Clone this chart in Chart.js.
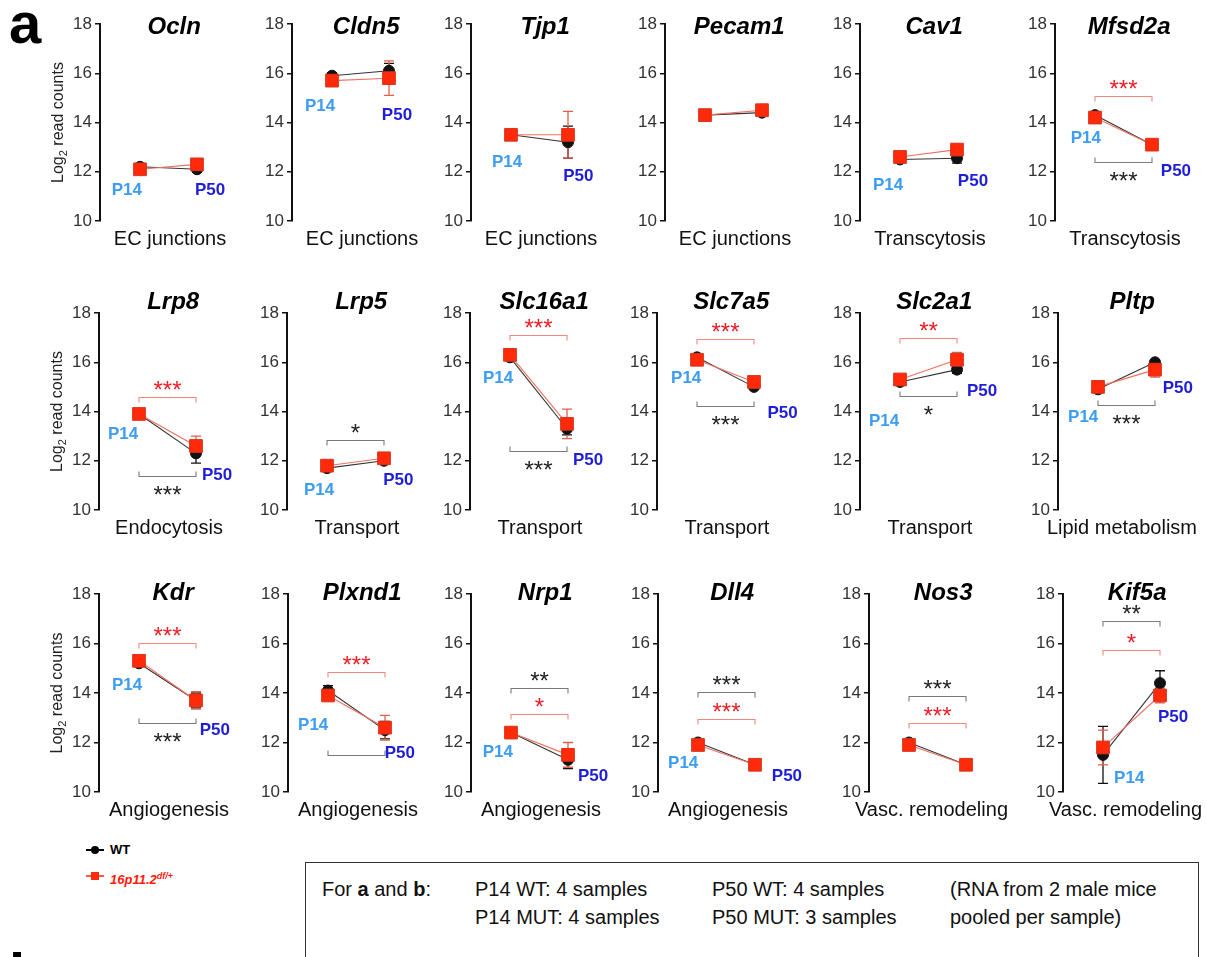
<!DOCTYPE html>
<html><head><meta charset="utf-8">
<script src="https://cdn.jsdelivr.net/npm/chart.js@4.4.1/dist/chart.umd.min.js"></script>
<style>
body{margin:0;background:#fff;width:1207px;height:957px;overflow:hidden;position:relative;font-family:'Liberation Sans',Arial,Helvetica,sans-serif;}
canvas{position:absolute;}
.abs{position:absolute;white-space:nowrap;}
.big{font-weight:bold;font-size:58px;line-height:58px;color:#000;}
.box{position:absolute;left:305px;top:862px;width:892px;height:200px;border:1.5px solid #333;}
.bt{position:absolute;font-size:20px;line-height:24px;color:#111;white-space:nowrap;}
.leg{position:absolute;font-size:13px;font-weight:bold;line-height:16px;white-space:nowrap;}
</style></head><body>
<div class="abs big" style="left:9px;top:-6px;">a</div>
<div class="abs big" style="left:9px;top:945px;">b</div>

<div class="abs" style="left:86px;top:849px;width:18px;height:1.5px;background:#000;"></div>
<div class="abs" style="left:91px;top:846px;width:8px;height:8px;border-radius:50%;background:#000;"></div>
<div class="leg" style="left:110px;top:842px;color:#000;">WT</div>
<div class="abs" style="left:86px;top:875px;width:18px;height:1.5px;background:#f06050;"></div>
<div class="abs" style="left:91px;top:872px;width:8px;height:8px;background:#ff2a0a;"></div>
<div class="leg" style="left:110px;top:868px;color:#ff1a0a;font-style:italic;">16p11.2<sup style="font-size:9px;">df/+</sup></div>

<div class="box"></div>
<div class="bt" style="left:322px;top:877px;">For <b>a</b> and <b>b</b>:</div>
<div class="bt" style="left:475px;top:877px;">P14 WT: 4 samples</div>
<div class="bt" style="left:475px;top:905px;">P14 MUT: 4 samples</div>
<div class="bt" style="left:712px;top:877px;">P50 WT: 4 samples</div>
<div class="bt" style="left:712px;top:905px;">P50 MUT: 3 samples</div>
<div class="bt" style="left:950px;top:877px;">(RNA from 2 male mice</div>
<div class="bt" style="left:950px;top:905px;">pooled per sample)</div>

<script>
// ---------------- DATA ----------------
const genes = ['Ocln','Cldn5','Tjp1','Pecam1','Cav1','Mfsd2a',
               'Lrp8','Lrp5','Slc16a1','Slc7a5','Slc2a1','Pltp',
               'Kdr','Plxnd1','Nrp1','Dll4','Nos3','Kif5a'];
const categories = ['EC junctions','EC junctions','EC junctions','EC junctions','Transcytosis','Transcytosis',
                    'Endocytosis','Transport','Transport','Transport','Transport','Lipid metabolism',
                    'Angiogenesis','Angiogenesis','Angiogenesis','Angiogenesis','Vasc. remodeling','Vasc. remodeling'];
const ages = ['P14','P50'];
const yTicks = [10,12,14,16,18];

const wtP14     = [12.2, 15.9, 13.5, 14.3, 12.5, 14.3, 13.9, 11.7, 16.2, 16.2, 15.2, 14.9, 15.2, 14.1, 12.4, 12.0, 12.0, 11.5];
const wtP14Err  = [0.08, 0.12, 0.05, 0.05, 0.05, 0.05, 0.05, 0.05, 0.05, 0.05, 0.05, 0.05, 0.05, 0.2,  0.05, 0.05, 0.05, 1.15];
const wtP50     = [12.1, 16.1, 13.2, 14.4, 12.55,13.1, 12.3, 12.0, 13.3, 15.0, 15.7, 16.0, 13.7, 12.5, 11.3, 11.1, 11.1, 14.4];
const wtP50Err  = [0.12, 0.3,  0.65, 0.08, 0.2,  0.05, 0.4,  0.05, 0.25, 0.1,  0.15, 0.1,  0.3,  0.35, 0.35, 0.05, 0.05, 0.5];
const mutP14    = [12.1, 15.7, 13.5, 14.3, 12.6, 14.2, 13.9, 11.8, 16.3, 16.1, 15.3, 15.0, 15.3, 13.9, 12.4, 11.9, 11.9, 11.8];
const mutP14Err = [0.08, 0.1,  0.05, 0.05, 0.05, 0.05, 0.05, 0.05, 0.05, 0.05, 0.05, 0.05, 0.05, 0.1,  0.05, 0.05, 0.05, 0.7];
const mutP50    = [12.3, 15.8, 13.5, 14.5, 12.9, 13.1, 12.6, 12.1, 13.5, 15.2, 16.1, 15.7, 13.7, 12.6, 11.5, 11.1, 11.1, 13.9];
const mutP50Err = [0.1,  0.7,  0.95, 0.08, 0.1,  0.08, 0.4,  0.08, 0.6,  0.08, 0.3,  0.3,  0.35, 0.5,  0.5,  0.05, 0.05, 0.3];

// significance brackets (value level on the y axis) and their star labels
const wtBracket   = [null,null,null,null,null,12.38, 11.4, 12.85, 12.4, 14.23, 14.61, 14.27, 12.8, 11.49, 14.22, 14.05, 13.88, 16.92];
const wtStars     = ['','','','','','***', '***', '*', '***', '***', '*', '***', '***', '', '**', '***', '***', '**'];
const mutBracket  = [null,null,null,null,null,15.09, 14.57, null, 17.09, 16.94, 16.98, null, 16.01, 14.86, 13.15, 12.96, 12.79, 15.75];
const mutStars    = ['','','','','','***', '***', '', '***', '***', '**', '', '***', '***', '*', '***', '***', '*'];

// age label anchors [x, y] in data units (null = no label)
const p14Label = [[-0.23,11.26],[-0.21,14.64],[-0.07,12.38],null,[-0.21,11.46],[-0.16,13.36],
                  [-0.28,13.09],[-0.14,10.81],[-0.21,15.36],[-0.19,15.33],[-0.28,13.6],[-0.26,13.77],
                  [-0.21,14.32],[-0.26,12.7],[-0.23,11.62],[-0.26,11.15],null,[0.46,10.57]];
const p50Label = [[1.23,11.26],[1.14,14.3],[1.18,11.8],null,[1.28,11.63],[1.42,12.0],
                  [1.37,11.4],[1.25,11.19],[1.37,12.0],[1.5,13.93],[1.44,14.81],[1.4,14.95],
                  [1.33,12.5],[1.26,11.55],[1.44,10.64],[1.56,10.64],null,[1.23,13.03]];

// ---------------- LAYOUT / STYLE ----------------
const FONT = "'Liberation Sans', Arial, Helvetica, sans-serif";
const UNIT = 57;
const XMIN = -40 / UNIT;
const PLOT_W = 150;
const XMAX = XMIN + PLOT_W / UNIT;
const AXIS_W = 70, PAD_T = 45, PAD_B = 45, CANVAS_W = 230;
const rows = [
  {top:24,  bottom:221, xs:[100,292,471,665,860,1055], titleDy:3},
  {top:313, bottom:510, xs:[99,287,470,657,860,1058],  titleDy:-11},
  {top:594, bottom:792, xs:[99,288,471,658,869,1063],  titleDy:-1}
];
const WT_COL = '#111', WT_LINE = '#333', MUT_COL = '#ff2a0a', MUT_LINE = '#f07060', MUT_ERR = '#e0604c';
const P14_COL = '#3d9df2', P50_COL = '#1e1ed8';

function errBar(ctx, xs, ys, x, v, e, color) {
  const px = xs.getPixelForValue(x);
  const y1 = ys.getPixelForValue(v + e), y2 = ys.getPixelForValue(v - e);
  ctx.strokeStyle = color; ctx.lineWidth = 1.3;
  ctx.beginPath();
  ctx.moveTo(px, y1); ctx.lineTo(px, y2);
  ctx.moveTo(px - 5, y1); ctx.lineTo(px + 5, y1);
  ctx.moveTo(px - 5, y2); ctx.lineTo(px + 5, y2);
  ctx.stroke();
}
function bracket(ctx, xs, ys, yv, mid, color, stars, starColor) {
  const x1 = xs.getPixelForValue(0), x2 = xs.getPixelForValue(1), py = Math.round(ys.getPixelForValue(yv)) + 0.5;
  const dir = mid < yv ? 1 : -1;
  ctx.strokeStyle = color; ctx.lineWidth = 1.1;
  ctx.beginPath();
  ctx.moveTo(x1, py + dir * 5); ctx.lineTo(x1, py); ctx.lineTo(x2, py); ctx.lineTo(x2, py + dir * 5);
  ctx.stroke();
  if (stars) {
    const cy = py - dir * 13;
    ctx.font = `24px ${FONT}`;
    ctx.fillStyle = starColor; ctx.textAlign = 'center'; ctx.textBaseline = 'alphabetic';
    ctx.fillText(stars, (x1 + x2) / 2, cy + 0.57 * 24);
  }
}

const decor = {
  id: 'decor',
  beforeDatasetsDraw(chart, args, opts) {
    const i = opts.i, ctx = chart.ctx, xs = chart.scales.x, ys = chart.scales.y;
    ctx.save();
    errBar(ctx, xs, ys, 0, wtP14[i], wtP14Err[i], WT_COL);
    errBar(ctx, xs, ys, 1, wtP50[i], wtP50Err[i], WT_COL);
    errBar(ctx, xs, ys, 0, mutP14[i], mutP14Err[i], MUT_ERR);
    errBar(ctx, xs, ys, 1, mutP50[i], mutP50Err[i], MUT_ERR);
    ctx.restore();
  },
  afterDraw(chart, args, opts) {
    const i = opts.i, ctx = chart.ctx, xs = chart.scales.x, ys = chart.scales.y, ca = chart.chartArea;
    ctx.save();
    // gene title
    ctx.font = `italic bold 24px ${FONT}`;
    ctx.fillStyle = '#000'; ctx.textAlign = 'center'; ctx.textBaseline = 'middle';
    ctx.fillText(genes[i], xs.getPixelForValue(0.6), ca.top + opts.titleDy);
    // category (kept inside the panel on the right)
    ctx.font = `20px ${FONT}`;
    ctx.fillStyle = '#111';
    const cw = ctx.measureText(categories[i]).width;
    let cx = ca.left + 70;
    if (cx + cw / 2 > ca.left + 139) cx = ca.left + 139 - cw / 2;
    ctx.fillText(categories[i], cx, ca.bottom + 18);
    // brackets
    const mid = (wtP14[i] + wtP50[i] + mutP14[i] + mutP50[i]) / 4;
    if (wtBracket[i] !== null) bracket(ctx, xs, ys, wtBracket[i], mid, '#7a7a7a', wtStars[i], '#222');
    if (mutBracket[i] !== null) bracket(ctx, xs, ys, mutBracket[i], mid, '#f08a80', mutStars[i], '#ee1c25');
    // age labels
    ctx.font = `bold 17px ${FONT}`;
    ctx.textAlign = 'center'; ctx.textBaseline = 'middle';
    if (p14Label[i]) { ctx.fillStyle = P14_COL; ctx.fillText(ages[0], xs.getPixelForValue(p14Label[i][0]), ys.getPixelForValue(p14Label[i][1])); }
    if (p50Label[i]) { ctx.fillStyle = P50_COL; ctx.fillText(ages[1], xs.getPixelForValue(p50Label[i][0]), ys.getPixelForValue(p50Label[i][1])); }
    // y axis title (first column only)
    if (opts.col === 0) {
      ctx.translate(ca.left - 43, (ca.top + ca.bottom) / 2);
      ctx.rotate(-Math.PI / 2);
      ctx.fillStyle = '#222'; ctx.textAlign = 'left'; ctx.textBaseline = 'alphabetic';
      ctx.font = `16px ${FONT}`; const w1 = ctx.measureText('Log').width, w3 = ctx.measureText(' read counts').width;
      ctx.font = `11px ${FONT}`; const w2 = ctx.measureText('2').width;
      let x = -(w1 + w2 + w3) / 2;
      ctx.font = `16px ${FONT}`; ctx.fillText('Log', x, 6); x += w1;
      ctx.font = `11px ${FONT}`; ctx.fillText('2', x, 10); x += w2;
      ctx.font = `16px ${FONT}`; ctx.fillText(' read counts', x, 6);
    }
    ctx.restore();
  }
};

rows.forEach((row, r) => {
  row.xs.forEach((axisX, col) => {
    const i = r * 6 + col;
    const h = (row.bottom - row.top) + PAD_T + PAD_B;
    const cv = document.createElement('canvas');
    cv.width = CANVAS_W; cv.height = h;
    cv.style.left = (axisX - AXIS_W) + 'px';
    cv.style.top = (row.top - PAD_T) + 'px';
    cv.style.width = CANVAS_W + 'px'; cv.style.height = h + 'px';
    document.body.appendChild(cv);
    new Chart(cv, {
      type: 'line',
      data: {
        datasets: [
          { label: 'WT', data: [{x:0, y:wtP14[i]}, {x:1, y:wtP50[i]}],
            borderColor: WT_LINE, borderWidth: 1.1, pointStyle: 'circle', pointRadius: 5.5,
            pointBackgroundColor: WT_COL, pointBorderColor: WT_COL, pointBorderWidth: 1, order: 2 },
          { label: '16p11.2df/+', data: [{x:0, y:mutP14[i]}, {x:1, y:mutP50[i]}],
            borderColor: MUT_LINE, borderWidth: 1.1, pointStyle: 'rect', pointRadius: 9,
            pointBackgroundColor: MUT_COL, pointBorderColor: '#d8341c', pointBorderWidth: 1, order: 1 }
        ]
      },
      options: {
        responsive: false, animation: false, devicePixelRatio: 1,
        layout: { padding: { top: PAD_T, bottom: PAD_B, left: 0, right: CANVAS_W - AXIS_W - PLOT_W } },
        plugins: { legend: { display: false }, tooltip: { enabled: false }, decor: { i: i, col: col, titleDy: row.titleDy } },
        scales: {
          x: { type: 'linear', min: XMIN, max: XMAX, display: false },
          y: {
            min: 10, max: 18,
            afterFit(s) { s.width = AXIS_W; },
            afterBuildTicks(s) { s.ticks = yTicks.map(v => ({ value: v })); },
            ticks: { font: { size: 17, family: FONT }, color: '#333', padding: 3 },
            grid: { drawOnChartArea: false, drawTicks: true, tickLength: 5, color: '#111', lineWidth: 1.5 },
            border: { display: true, color: '#111', width: 2 }
          }
        }
      },
      plugins: [decor]
    });
  });
});
</script>
</body></html>
